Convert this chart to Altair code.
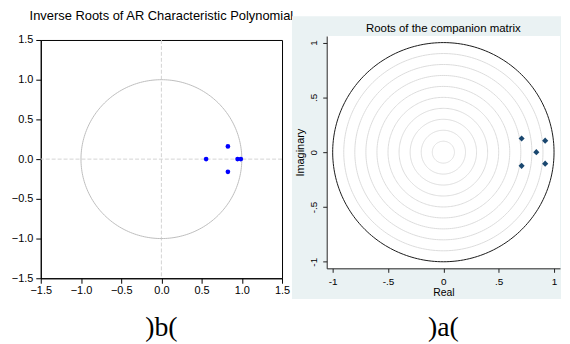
import altair as alt
import numpy as np
import pandas as pd

# ---------------- data ----------------
# (b) EViews: inverse roots of AR characteristic polynomial
left_re = [0.556, 0.827, 0.827, 0.947, 0.988]
left_im = [0.0, 0.16, -0.16, 0.0, 0.0]
left_ticks = [-1.5, -1.0, -0.5, 0.0, 0.5, 1.0, 1.5]

# (a) Stata: roots of the companion matrix
right_re = [0.707, 0.707, 0.92, 0.92, 0.84]
right_im = [0.125, -0.125, 0.105, -0.105, 0.0]
right_ticks = [-1, -0.5, 0, 0.5, 1]
ring_radii = [0.1, 0.2, 0.3, 0.4, 0.5, 0.6, 0.7, 0.8, 0.9, 1.0]

left_title = "Inverse Roots of AR Characteristic Polynomial"
right_title = "Roots of the companion matrix"
left_label = ")b("
right_label = ")a("

FONT = "Liberation Sans"

# unit-circle geometry
theta = np.linspace(0, 2 * np.pi, 241)
unit = pd.DataFrame({"t": np.arange(len(theta)), "cx": np.cos(theta), "cy": np.sin(theta)})
rings = pd.concat(
    [pd.DataFrame({"r": r, "t": unit["t"], "cx": r * unit["cx"], "cy": r * unit["cy"]}) for r in ring_radii],
    ignore_index=True,
)
rings["outer"] = rings["r"] >= 1.0

left_pts = pd.DataFrame({"re": left_re, "im": left_im})
right_pts = pd.DataFrame({"re": right_re, "im": right_im})

# ---------------- left panel ----------------
LW, LH = 243, 240
lxs = alt.Scale(domain=[-1.5, 1.5], nice=False, zero=False)
lys = alt.Scale(domain=[-1.5, 1.5], nice=False, zero=False)
lax = alt.Axis(values=left_ticks, format=".1f", title=None, grid=False, domainColor="black",
               tickColor="black", tickSize=5, labelFontSize=11, labelColor="black",
               labelPadding=1, labelFont=FONT, labelFlush=False, labelOverlap=False)
lay = alt.Axis(values=left_ticks, format=".1f", title=None, grid=False, domainColor="black",
               tickColor="black", tickSize=5, labelFontSize=11, labelColor="black",
               labelPadding=3, labelFont=FONT, labelFlush=False, labelOverlap=False)

zero_df = pd.DataFrame({"z": [0.0]})
l_vrule = alt.Chart(zero_df).mark_rule(color="#D4D4D4", strokeDash=[4, 2], strokeWidth=1).encode(
    x=alt.X("z:Q", scale=lxs, axis=lax))
l_hrule = alt.Chart(zero_df).mark_rule(color="#D4D4D4", strokeDash=[4, 2], strokeWidth=1).encode(
    y=alt.Y("z:Q", scale=lys, axis=lay))
l_circle = alt.Chart(unit).mark_line(color="#BDBDBD", strokeWidth=1).encode(
    x=alt.X("cx:Q", scale=lxs, axis=lax), y=alt.Y("cy:Q", scale=lys, axis=lay), order="t:Q")
l_points = alt.Chart(left_pts).mark_point(filled=True, shape="circle", size=22, color="#0000FF", opacity=1).encode(
    x=alt.X("re:Q", scale=lxs, axis=lax), y=alt.Y("im:Q", scale=lys, axis=lay))
l_lab = alt.Chart(pd.DataFrame({"x": [0.0], "label": [left_label]})).mark_text(
    font="Liberation Serif", fontSize=28, baseline="middle", align="center", color="black").encode(
    x=alt.X("x:Q", scale=lxs, axis=lax), y=alt.value(290), text="label:N")

left = alt.layer(l_vrule, l_hrule, l_circle, l_points, l_lab).properties(
    width=LW, height=LH,
    view=alt.ViewBackground(stroke="black", strokeWidth=1),
    title=alt.TitleParams(left_title, font=FONT, fontSize=13, fontWeight="normal", color="black",
                          anchor="middle", offset=11),
)

# ---------------- right panel ----------------
RW, RH = 235, 230
rxs = alt.Scale(domain=[-1.054, 1.054], nice=False, zero=False)
rys = alt.Scale(domain=[-1.06, 1.06], nice=False, zero=False, range=[RH, -4])
stata_lab = "datum.value == 0 ? '0' : replace(toString(datum.value), '0.', '.')"
rax = alt.Axis(values=right_ticks, labelExpr=stata_lab, title="Real", grid=False, domainColor="#222222",
               tickColor="#222222", tickSize=4, labelFontSize=10, labelColor="black", labelPadding=4,
               labelFont=FONT, labelFlush=False, labelOverlap=False, titleFont=FONT, titleFontSize=10.5,
               titleFontWeight="normal", titleColor="black", titlePadding=1, zindex=2)
ray = alt.Axis(values=right_ticks, labelExpr=stata_lab, title="Imaginary", grid=False, domainColor="#222222",
               tickColor="#222222", tickSize=4, labelFontSize=10, labelColor="black", labelPadding=4,
               labelAngle=270, labelAlign="center", labelBaseline="bottom",
               labelFont=FONT, labelFlush=False, labelOverlap=False, titleFont=FONT, titleFontSize=11,
               titleFontWeight="normal", titleColor="black", titlePadding=3, zindex=2)

one = alt.Data(values=[{"a": 1}])
r_bg = alt.Chart(one).mark_rect(color="#EAF2F3").encode(
    x=alt.value(-35), x2=alt.value(RW + 1), y=alt.value(-24), y2=alt.value(261))
r_plot = alt.Chart(one).mark_rect(color="white").encode(
    x=alt.value(0), x2=alt.value(RW), y=alt.value(-4), y2=alt.value(RH))
r_rings = alt.Chart(rings).mark_line(strokeWidth=1).encode(
    x=alt.X("cx:Q", scale=rxs, axis=rax), y=alt.Y("cy:Q", scale=rys, axis=ray),
    detail="r:N", order="t:Q",
    color=alt.Color("outer:N", scale=alt.Scale(domain=[False, True], range=["#DCDCDC", "#1A1A1A"]), legend=None),
    strokeWidth=alt.StrokeWidth("outer:N", scale=alt.Scale(domain=[False, True], range=[1, 1.3]), legend=None))
r_points = alt.Chart(right_pts).mark_point(filled=True, shape="diamond", size=38, color="#1A476F", opacity=1).encode(
    x=alt.X("re:Q", scale=rxs, axis=rax), y=alt.Y("im:Q", scale=rys, axis=ray))
r_title = alt.Chart(pd.DataFrame({"x": [0.0], "label": [right_title]})).mark_text(
    font=FONT, fontSize=11.5, baseline="alphabetic", align="center", color="black").encode(
    x=alt.X("x:Q", scale=rxs, axis=rax), y=alt.value(-8), text="label:N")
r_lab = alt.Chart(pd.DataFrame({"x": [0.0], "label": [right_label]})).mark_text(
    font="Liberation Serif", fontSize=28, baseline="middle", align="center", color="black").encode(
    x=alt.X("x:Q", scale=rxs, axis=rax), y=alt.value(290), text="label:N")

right = alt.layer(r_bg, r_plot, r_rings, r_points, r_title, r_lab).properties(
    width=RW, height=RH,
)

chart = alt.hconcat(left, right, spacing=45, bounds="flush").properties(
    padding={"left": 2, "top": 0, "right": 0, "bottom": 0}
).configure_view(stroke="transparent").configure(background="white")

chart.save("out.html", embed_options={"renderer": "svg", "actions": False})
